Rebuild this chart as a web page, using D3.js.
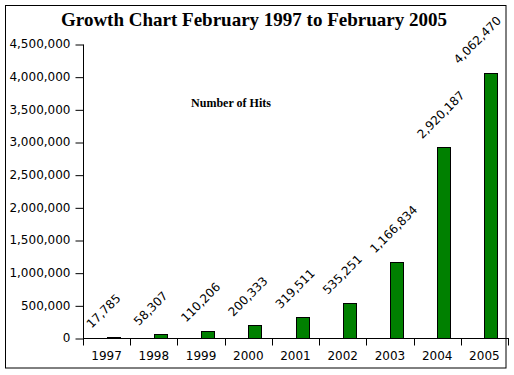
<!DOCTYPE html>
<html>
<head>
<meta charset="utf-8">
<script src="https://cdn.jsdelivr.net/npm/d3@7"></script>
<style>
    body { margin: 0; background: #fff; }
</style>
</head>
<body>
<div id="chart"></div>
<script>
// data
var years = ["1997", "1998", "1999", "2000", "2001", "2002", "2003", "2004", "2005"];
var hits = [17785, 58307, 110206, 200333, 319511, 535251, 1166834, 2920187, 4062470];
var yTicks = [0, 500000, 1000000, 1500000, 2000000, 2500000, 3000000, 3500000, 4000000, 4500000];
var chartTitle = "Growth Chart February 1997 to February 2005";
var seriesLabel = "Number of Hits";

function draw() {
    var w = 514;
    var h = 375;
    var left = 83, right = 508, top = 44, bottom = 338;
    var boxRight = 506;

    var svg = d3.select("#chart")
        .append("svg")
        .attr("width", w)
        .attr("height", h);

    // outer border of the chart
    svg.append("rect")
        .attr("x", 5.5)
        .attr("y", 5.5)
        .attr("width", boxRight - 5.5)
        .attr("height", 368 - 5.5)
        .attr("fill", "#fff")
        .attr("stroke", "#000");

    var x = d3.scaleBand()
        .domain(years)
        .range([left, right])
        .padding(0);

    var y = d3.scaleLinear()
        .domain([0, 4500000])
        .range([bottom, top]);

    // y axis
    var yAxis = svg.append("g")
        .attr("transform", "translate(" + (left + 0.5) + ",0)")
        .call(d3.axisLeft(y)
            .tickValues(yTicks)
            .tickSize(8)
            .tickPadding(5)
            .tickFormat(d3.format(",")));
    yAxis.select(".domain").attr("d", "M0," + (top + 0.5) + "V" + (bottom + 0.5));
    yAxis.selectAll(".tick line").attr("transform", "translate(0,0.5)");
    yAxis.selectAll("text")
        .style("font-family", "DejaVu Sans")
        .style("font-size", "12px")
        .attr("fill", "#000");

    // bars
    svg.append("g")
        .selectAll("rect")
        .data(hits)
        .enter()
        .append("rect")
        .attr("x", function(d, i) { return Math.round(x(years[i]) + x.bandwidth() / 2) + 0.5; })
        .attr("y", function(d) { return Math.round(y(d)) + 0.5; })
        .attr("width", 13)
        .attr("height", function(d) { return bottom - Math.round(y(d)); })
        .attr("fill", "#008000")
        .attr("stroke", "#000");

    // x axis: ticks at category edges, labels in the middle
    var xEdge = d3.scaleLinear()
        .domain([0, years.length])
        .range([left, right]);
    var xAxis = svg.append("g")
        .attr("transform", "translate(0," + (bottom + 0.5) + ")")
        .call(d3.axisBottom(xEdge)
            .tickValues(d3.range(years.length + 1))
            .tickSize(7)
            .tickFormat(""));
    xAxis.selectAll(".tick").attr("transform", function(d) {
        return "translate(" + (Math.round(xEdge(d)) + 0.5) + ",0)";
    });
    xAxis.select(".domain").attr("d", "M" + left + ",0H" + (right + 1));

    svg.append("g")
        .selectAll("text")
        .data(years)
        .enter()
        .append("text")
        .attr("x", function(d) { return x(d) + x.bandwidth() / 2; })
        .attr("y", bottom + 22)
        .attr("text-anchor", "middle")
        .style("font-family", "DejaVu Sans")
        .style("font-size", "12px")
        .text(function(d) { return d; });

    // value labels, rotated 45 degrees
    var fmt = d3.format(",");
    svg.append("g")
        .selectAll("text")
        .data(hits)
        .enter()
        .append("text")
        .style("font-family", "DejaVu Sans")
        .style("font-size", "12px")
        .text(function(d) { return fmt(d); })
        .attr("transform", function(d, i) {
            var len = this.getComputedTextLength();
            var sx = x(years[i]) + x.bandwidth() / 2 - 15;
            sx = Math.min(sx, boxRight - 4 - len * Math.SQRT1_2);
            var sy = Math.min(y(d) - 8, y(0) - 7);
            return "translate(" + sx + "," + sy + ") rotate(-45)";
        });

    // title
    svg.append("text")
        .attr("x", 254)
        .attr("y", 26)
        .attr("text-anchor", "middle")
        .style("font-family", "Liberation Serif")
        .style("font-weight", "bold")
        .style("font-size", "19px")
        .text(chartTitle);

    // series name
    svg.append("text")
        .attr("x", 231)
        .attr("y", 107)
        .attr("text-anchor", "middle")
        .style("font-family", "Liberation Serif")
        .style("font-weight", "bold")
        .style("font-size", "12px")
        .text(seriesLabel);
}

window.onload = draw;
</script>
</body>
</html>
